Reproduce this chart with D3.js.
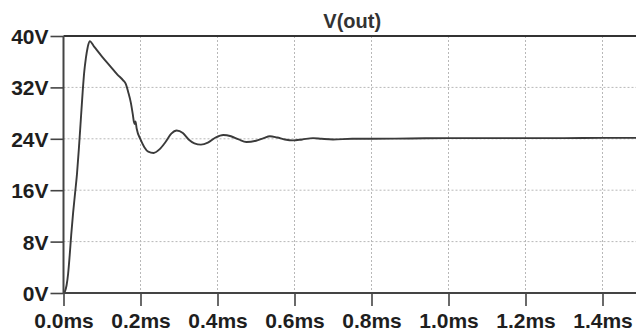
<!DOCTYPE html>
<html>
<head>
<meta charset="utf-8">
<script src="https://cdn.jsdelivr.net/npm/d3@7"></script>
<style>
body{margin:0;background:#fff}
svg{display:block}
</style>
</head>
<body>
<svg id="chart"></svg>
<script>
const width = 636
const height = 333
const margin = {top:36,right:-5,bottom:40,left:63.5}
const innerWidth = width - margin.left - margin.right
const innerHeight = height - margin.top - margin.bottom

// time in ms, voltage in V
const times = [0,0.004,0.008,0.012,0.016,0.02,0.025,0.03,0.035,0.04,0.045,0.05,0.054,0.058,0.063,0.068,
  0.08,0.1,0.12,0.14,0.155,0.162,0.168,0.175,0.18,0.183,0.185,0.187,0.19,0.2,0.21,0.22,0.234,0.25,0.265,0.28,0.294,
  0.31,0.325,0.34,0.357,0.375,0.395,0.415,0.435,0.455,0.475,0.5,0.52,0.536,0.555,0.575,0.596,0.62,0.648,0.67,0.7,0.75,0.8,0.9,1.0,1.1,1.2,1.3,1.4,1.5]
const volts = [0,0.3,1.2,3,5.8,9,12.5,15.5,18.5,22.5,27,31.5,34.5,36.5,38.3,39.2,
  38.3,36.8,35.4,34.0,33.1,32.5,31.3,29.6,27.8,26.6,26.3,26.7,25.6,23.9,22.7,22.0,21.8,22.4,23.5,24.8,25.3,
  24.9,23.9,23.3,23.1,23.4,24.2,24.6,24.4,23.9,23.5,23.7,24.1,24.4,24.2,23.9,23.75,23.9,24.1,24.0,23.9,24.0,24.0,24.05,24.1,24.1,24.1,24.1,24.15,24.15]
const xTicks = [0,0.2,0.4,0.6,0.8,1.0,1.2,1.4]
const yTicks = [0,8,16,24,32,40]
const title = 'V(out)'

const data = times.map((t,i)=>({t:t, v:volts[i]}))

const svg = d3.select('#chart')
  .attr('width',width).attr('height',height)
  .style('font-family','"Liberation Sans", Arial, sans-serif')

const xScale = d3.scaleLinear().domain([0,1.5]).range([0,innerWidth])
const yScale = d3.scaleLinear().domain([0,40]).range([innerHeight,0])

const g = svg.append('g').attr('transform',`translate(${margin.left},${margin.top})`)

// grid
g.append('g').selectAll('line').data(xTicks.slice(1)).enter().append('line')
  .attr('x1',d=>xScale(d)).attr('x2',d=>xScale(d))
  .attr('y1',0).attr('y2',innerHeight)
  .attr('stroke','#b8b8b8').attr('stroke-width',1).attr('stroke-dasharray','2,2')
g.append('g').selectAll('line').data(yTicks.slice(1,-1)).enter().append('line')
  .attr('x1',0).attr('x2',innerWidth)
  .attr('y1',d=>yScale(d)).attr('y2',d=>yScale(d))
  .attr('stroke','#b8b8b8').attr('stroke-width',1).attr('stroke-dasharray','2,2')

// curve
const line = d3.line().x(d=>xScale(d.t)).y(d=>yScale(d.v)).curve(d3.curveMonotoneX)
g.append('path').attr('d',line(data))
  .attr('fill','none').attr('stroke','#3a3a3a').attr('stroke-width',1.9)

// axes
const xAxis = d3.axisBottom(xScale).tickValues(xTicks).tickSize(13).tickPadding(7)
  .tickFormat(d=>d3.format('.1f')(d)+'ms')
const yAxis = d3.axisLeft(yScale).tickValues(yTicks).tickSize(13).tickPadding(2)
  .tickFormat(d=>d+'V')

const xg = g.append('g').attr('transform',`translate(0,${innerHeight})`).call(xAxis)
const yg = g.append('g').call(yAxis)
;[xg,yg].forEach(a=>{
  a.select('.domain').remove()
  a.selectAll('line').attr('stroke','#444').attr('stroke-width',1.6)
  a.selectAll('text').attr('fill','#1e1e1e').attr('font-size','21px').attr('font-weight','bold')
    .attr('font-family','"Liberation Sans", Arial, sans-serif')
})
yg.selectAll('text').attr('dy','0.36em')

// frame lines
g.append('line').attr('x1',0).attr('x2',innerWidth).attr('y1',0).attr('y2',0)
  .attr('stroke','#333').attr('stroke-width',2)
g.append('line').attr('x1',0).attr('x2',innerWidth).attr('y1',innerHeight).attr('y2',innerHeight)
  .attr('stroke','#444').attr('stroke-width',2)
g.append('line').attr('x1',0).attr('x2',0).attr('y1',0).attr('y2',innerHeight)
  .attr('stroke','#444').attr('stroke-width',2)

// title
g.append('text').text(title)
  .attr('x',innerWidth/2).attr('y',-8)
  .attr('text-anchor','middle').attr('font-size','20px').attr('font-weight','bold')
  .attr('fill','#333')
</script>
</body>
</html>
